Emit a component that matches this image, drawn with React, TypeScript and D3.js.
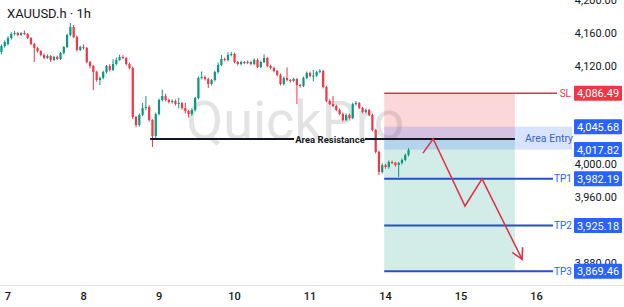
import React from "react";
import * as d3 from "d3";

const TITLE = "XAUUSD.h · 1h";

const opens = [4136.8,4144.1,4146.6,4153.9,4158.8,4160.0,4157.6,4160.0,4158.8,4153.9,4146.6,4141.7,4138.0,4133.2,4129.5,4131.9,4127.1,4130.7,4128.3,4135.6,4142.9,4157.6,4167.3,4155.1,4139.3,4142.9,4141.7,4124.6,4119.8,4112.4,4102.7,4105.1,4112.4,4119.8,4114.9,4122.2,4127.1,4130.7,4129.5,4122.2,4117.3,4057.6,4047.8,4060.0,4068.5,4069.8,4053.9,4034.4,4061.2,4078.3,4083.2,4078.3,4075.9,4077.1,4073.4,4074.6,4068.5,4064.9,4061.2,4066.1,4080.7,4105.1,4106.3,4103.9,4097.8,4102.7,4112.4,4121.0,4128.3,4127.1,4133.2,4134.4,4124.6,4122.2,4124.6,4123.4,4124.6,4122.2,4127.1,4118.5,4124.6,4129.5,4119.8,4117.3,4113.7,4108.8,4097.8,4105.1,4102.7,4101.5,4103.9,4096.6,4095.4,4105.1,4111.2,4107.6,4108.0,4112.4,4113.7,4094.1,4077.1,4073.4,4071.0,4066.1,4061.2,4053.9,4060.0,4056.3,4073.4,4074.6,4068.5,4063.7,4066.1,4060.0,4041.7,4014.9,3990.5,3999.0,3996.6,4002.7,4002.0,3999.0,4001.5,4005.1,4011.2];
const highs = [4146,4151,4156,4161,4162.5,4161.5,4161,4163,4160,4155,4148,4143,4139,4135,4134,4133,4132,4132.5,4137,4144,4159,4172.2,4169.8,4157,4144.5,4146,4143,4126,4121,4114,4107,4114,4121,4122,4128,4130,4133.5,4133,4131,4124,4119,4059,4062,4075,4083,4072,4055,4063,4080,4091,4086,4080,4079,4079,4081,4076,4075,4066.5,4068,4082,4107,4113,4108,4105.5,4104,4114,4124,4133,4130,4136.5,4137,4136,4126,4126,4126,4126.5,4126,4129,4129,4126,4134,4131,4121.5,4119,4115,4110.5,4107,4118,4104,4105.5,4105,4098,4107,4113,4113,4115,4114,4116,4115,4095.5,4079,4083,4072.5,4068,4063,4062,4061.5,4075,4077,4076,4070,4068,4067.5,4061.5,4043,4016.5,4001,4000.5,4004.5,4004.5,4003,4003,4007,4013,4019.5];
const lows = [4134,4142,4145,4152,4157,4156,4156.5,4157.5,4152.5,4145,4124.6,4136,4131.5,4128,4128.5,4124.6,4126,4127,4127,4134,4141.5,4156,4153.5,4137.5,4138,4140,4123,4117,4090.5,4100.5,4096.6,4103.5,4110.5,4113,4113.5,4120.5,4126,4128,4120.5,4115.5,4055,4045,4046,4058.5,4066,4052,4021,4032,4059.5,4076.5,4076.5,4074,4074,4071.5,4068,4066.5,4062,4057,4059,4064.5,4079,4103.5,4102,4093,4096,4101,4110.5,4119.5,4125.5,4125.5,4131.5,4123,4120.5,4120.5,4122,4122,4120.5,4120.5,4117,4117,4123,4118,4115.5,4112,4107,4096,4096,4101,4099.5,4100,4073.4,4093.5,4094,4103.5,4106,4101,4106.5,4111,4092.5,4075.5,4072,4069.5,4064.5,4059.5,4052,4052.5,4054.5,4055,4071.5,4067,4062,4062,4058.5,4040,4013,3986.8,3988.5,3994.5,3994.5,4000,3997,3984.4,3999.5,4003.5,4009.5];
const closes = [4144.1,4149.0,4153.9,4158.8,4160.0,4157.6,4160.0,4158.8,4153.9,4146.6,4141.7,4138.0,4133.2,4129.5,4131.9,4127.1,4130.7,4128.3,4135.6,4142.9,4157.6,4167.3,4155.1,4139.3,4142.9,4141.7,4124.6,4119.8,4112.4,4102.7,4105.1,4112.4,4119.8,4114.9,4122.2,4127.1,4130.7,4129.5,4122.2,4117.3,4057.6,4047.8,4060.0,4068.5,4069.8,4053.9,4034.4,4061.2,4078.3,4083.2,4078.3,4075.9,4077.1,4073.4,4074.6,4068.5,4064.9,4061.2,4066.1,4080.7,4105.1,4106.3,4103.9,4097.8,4102.7,4112.4,4121.0,4128.3,4127.1,4133.2,4134.4,4124.6,4122.2,4124.6,4123.4,4124.6,4122.2,4127.1,4118.5,4124.6,4129.5,4119.8,4117.3,4113.7,4108.8,4097.8,4105.1,4102.7,4101.5,4103.9,4096.6,4095.4,4105.1,4111.2,4107.6,4108.0,4112.4,4113.7,4094.1,4077.1,4073.4,4071.0,4066.1,4061.2,4053.9,4060.0,4056.3,4073.4,4074.6,4068.5,4063.7,4066.1,4060.0,4041.7,4014.9,3990.5,3999.0,3996.6,4002.7,4002.0,3999.0,4001.5,4005.1,4011.2,4017.3];

const dayIndex = [2, 25, 48, 71, 94, 117, 140, 163];
const dayLabels = ["7", "8", "9", "10", "11", "14", "15", "16"];
const priceTicks = [3880, 3960, 4000, 4120, 4160, 4200];

const SL = 4086.49;
const ENTRY_TOP = 4045.68;
const ENTRY_BOTTOM = 4017.82;
const ENTRY = 4031;
const TP_LEVELS = [3982.19, 3925.18, 3869.46];
const TP_NAMES = ["TP1", "TP2", "TP3"];
const POS_START = 116.6;
const POS_END = 156.4;
const RESIST_START = 45.3;
const RESIST_PRICE = 4030.7;
const zigIdx = [128.4, 131.5, 141.2, 146.4, 158.6];
const zigPrice = [4013.5, 4031, 3949, 3982.19, 3884];

const fmt = d3.format(",.2f");

export default function App() {
  const W = 624, H = 307;
  const x = d3.scaleLinear().domain([2, 163]).range([8, 8 + 161 * 3.283]);
  const y = d3.scaleLinear().domain([3800, 4200]).range([328.2, 0.2]);
  const green = "#089981", red = "#f23645", blue = "#2962ff", tpLine = "#2451c8";
  const font = "Roboto, 'Noto Sans', sans-serif";

  const zig = zigIdx.map((i, k) => [x(i), y(zigPrice[k])] as [number, number]);
  const line = d3.line();
  const n = zig.length;
  const [ex, ey] = zig[n - 1];
  const [px, py] = zig[n - 2];
  const ang = Math.atan2(ey - py, ex - px);
  const head = 12, spread = 0.5;
  const h1: [number, number] = [ex - head * Math.cos(ang - spread), ey - head * Math.sin(ang - spread)];
  const h2: [number, number] = [ex - head * Math.cos(ang + spread), ey - head * Math.sin(ang + spread)];

  const bodyW = 2.2;
  const resistY = y(RESIST_PRICE);

  return (
    <svg width={W} height={H} style={{ position: "absolute", left: 0, top: 0, background: "#fff" }} fontFamily={font}>
      <rect x={0} y={0} width={W} height={H} fill="#fff" />
      <text x={186} y={139} fontSize={54} fill="#e3e3e3" fontFamily={font}>QuickPro</text>

      {/* position zones */}
      <rect x={x(POS_START)} y={y(SL)} width={x(POS_END) - x(POS_START)} height={y(ENTRY) - y(SL)} fill="rgba(242,54,69,0.2)" />
      <rect x={x(POS_START)} y={y(ENTRY)} width={x(POS_END) - x(POS_START)} height={y(TP_LEVELS[2]) - y(ENTRY)} fill="rgba(8,153,129,0.18)" />
      <rect x={x(POS_START)} y={y(ENTRY_TOP)} width={572 - x(POS_START)} height={y(ENTRY_BOTTOM) - y(ENTRY_TOP)} fill="rgba(41,98,255,0.18)" />
      <text x={549} y={y((ENTRY_TOP + ENTRY_BOTTOM) / 2) + 4} fontSize={10.5} fill="#3a63c8" textAnchor="middle">Area Entry</text>

      {/* candles */}
      {closes.map((c, i) => {
        const o = opens[i];
        const col = c >= o ? green : red;
        const cx = x(i);
        const top = y(Math.max(o, c));
        const bot = y(Math.min(o, c));
        return (
          <g key={i}>
            <line x1={cx} x2={cx} y1={y(highs[i])} y2={y(lows[i])} stroke={col} strokeWidth={1} />
            <rect x={cx - bodyW / 2} y={top} width={bodyW} height={Math.max(1, bot - top)} fill={col} />
          </g>
        );
      })}

      {/* resistance */}
      <line x1={x(RESIST_START)} x2={294} y1={resistY} y2={resistY} stroke="#131722" strokeWidth={2} />
      <line x1={365} x2={x(POS_END)} y1={resistY} y2={resistY} stroke="#131722" strokeWidth={2} />
      <text x={330} y={resistY + 3.5} fontSize={9.5} fontWeight={700} fill="#131722" textAnchor="middle">Area Resistance</text>

      {/* SL / TP lines */}
      <line x1={x(POS_START)} x2={557} y1={y(SL)} y2={y(SL)} stroke="#e0334a" strokeWidth={1.5} />
      <text x={571} y={y(SL) + 3.5} fontSize={10} fill={red} textAnchor="end">SL</text>
      {TP_LEVELS.map((p, k) => (
        <g key={k}>
          <line x1={x(POS_START)} x2={553} y1={y(p)} y2={y(p)} stroke={tpLine} strokeWidth={2} />
          <text x={572} y={y(p) + 3.5} fontSize={10} fill={blue} textAnchor="end">{TP_NAMES[k]}</text>
        </g>
      ))}

      {/* zigzag arrow */}
      <path d={line(zig) || ""} fill="none" stroke="#e0334a" strokeWidth={1.6} strokeLinejoin="miter" />
      <path d={line([h1, [ex, ey], h2]) || ""} fill="none" stroke="#e0334a" strokeWidth={1.6} />

      {/* title */}
      <text x={7} y={18} fontSize={13} fill="#131722">{TITLE}</text>

      {/* price axis */}
      {priceTicks.map((p) => (
        <text key={p} x={617} y={y(p) + 4} fontSize={11} fill="#131722" textAnchor="end">{fmt(p)}</text>
      ))}
      {[
        { p: SL, c: red },
        { p: ENTRY_TOP, c: blue },
        { p: ENTRY_BOTTOM, c: blue },
        ...TP_LEVELS.map((p) => ({ p, c: blue })),
      ].map((b, k) => (
        <g key={k}>
          <rect x={574} y={y(b.p) - 7.5} width={48} height={15} fill={b.c} rx={1} />
          <text x={598} y={y(b.p) + 4} fontSize={11} fill="#fff" textAnchor="middle">{fmt(b.p)}</text>
        </g>
      ))}

      {/* time axis */}
      <line x1={0} x2={W} y1={285.5} y2={285.5} stroke="#e0e3eb" strokeWidth={1} />
      {dayIndex.map((i, k) => (
        <text key={k} x={x(i)} y={300} fontSize={11} fontWeight={500} fill="#131722" textAnchor="middle">{dayLabels[k]}</text>
      ))}
    </svg>
  );
}
